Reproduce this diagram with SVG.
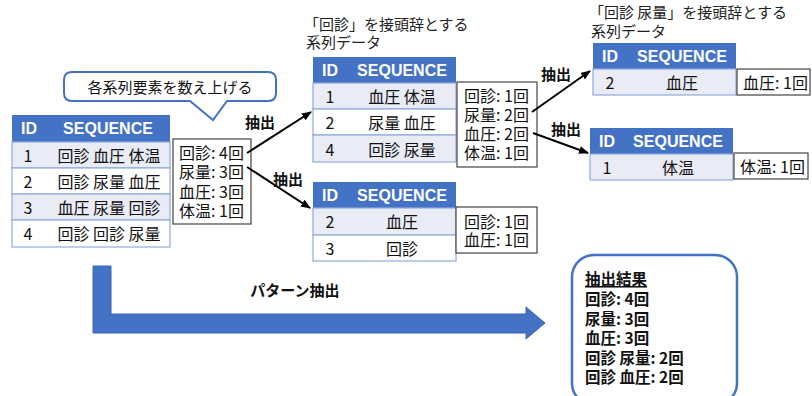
<svg xmlns="http://www.w3.org/2000/svg" width="812" height="396" viewBox="0 0 812 396">
<defs>
<style>
.t{font-family:"Noto Sans CJK JP","Liberation Sans",sans-serif;font-size:16px;fill:#111;dominant-baseline:central}
.ttl{font-family:"Noto Sans CJK JP",sans-serif;font-size:15px;fill:#222}
.hd{font-family:"Liberation Sans","Noto Sans CJK JP",sans-serif;font-size:16px;font-weight:bold;fill:#fff;dominant-baseline:central;text-anchor:middle}
.c{text-anchor:middle}
.hdr{fill:#4472C4}
.alt{fill:#E9EBF5;stroke:#8FAADC;stroke-width:1.2}
.wht{fill:#fff;stroke:#8FAADC;stroke-width:1.2}
.cnt{fill:#fff;stroke:#444;stroke-width:1.2}
.b{font-family:"Noto Sans CJK JP",sans-serif;font-weight:bold;font-size:15px;fill:#111;dominant-baseline:central}
.r{font-family:"Noto Sans CJK JP",sans-serif;font-weight:bold;font-size:15.5px;fill:#111;dominant-baseline:central}
.ln{stroke:#000;stroke-width:2;fill:none;marker-end:url(#ah)}
</style>
<marker id="ah" markerWidth="10" markerHeight="8" refX="9" refY="4" orient="auto" markerUnits="userSpaceOnUse">
<path d="M0,0 L10,4 L0,8 Z" fill="#000"/>
</marker>
</defs>

<g id="callout">
<path d="M72,72 H268 Q276,72 276,80 V93 Q276,101 268,101 H227 L213,120 L190,101 H72 Q64,101 64,93 V80 Q64,72 72,72 Z" fill="#fff" stroke="#4472C4" stroke-width="2"/>
<text class="t c" x="170" y="86" style="font-size:15px">各系列要素を数え上げる</text>
</g>

<g id="table1">
<rect class="hdr" x="12" y="115" width="158" height="27"/>
<text class="hd" x="29" y="128.5">ID</text>
<text class="hd" x="108" y="128.5">SEQUENCE</text>
<rect class="alt" x="12" y="142" width="158" height="26"/>
<rect class="wht" x="12" y="168" width="158" height="26"/>
<rect class="alt" x="12" y="194" width="158" height="26"/>
<rect class="wht" x="12" y="220" width="158" height="27"/>
<text class="t c" x="28" y="155">1</text><text class="t c" x="109" y="155">回診 血圧 体温</text>
<text class="t c" x="28" y="181">2</text><text class="t c" x="109" y="181">回診 尿量 血圧</text>
<text class="t c" x="28" y="207">3</text><text class="t c" x="109" y="207">血圧 尿量 回診</text>
<text class="t c" x="28" y="233">4</text><text class="t c" x="109" y="233">回診 回診 尿量</text>
</g>

<g id="count1">
<rect class="cnt" x="173" y="139" width="78" height="85"/>
<text class="t" x="179" y="152">回診: 4回</text>
<text class="t" x="179" y="171">尿量: 3回</text>
<text class="t" x="179" y="191">血圧: 3回</text>
<text class="t" x="179" y="210">体温: 1回</text>
</g>

<g id="table2">
<text class="ttl" x="304" y="30">「回診」を接頭辞とする</text>
<text class="ttl" x="306" y="48">系列データ</text>
<rect class="hdr" x="313" y="57" width="143" height="26"/>
<text class="hd" x="330" y="70">ID</text>
<text class="hd" x="402" y="70">SEQUENCE</text>
<rect class="alt" x="313" y="83" width="143" height="26"/>
<rect class="wht" x="313" y="109" width="143" height="26"/>
<rect class="alt" x="313" y="135" width="143" height="27"/>
<text class="t c" x="330" y="96">1</text><text class="t c" x="402" y="96">血圧 体温</text>
<text class="t c" x="330" y="122">2</text><text class="t c" x="402" y="122">尿量 血圧</text>
<text class="t c" x="330" y="148.5">4</text><text class="t c" x="402" y="148.5">回診 尿量</text>
</g>

<g id="count2">
<rect class="cnt" x="457" y="82" width="80" height="85"/>
<text class="t" x="464" y="95">回診: 1回</text>
<text class="t" x="464" y="114">尿量: 2回</text>
<text class="t" x="464" y="133">血圧: 2回</text>
<text class="t" x="464" y="152">体温: 1回</text>
</g>

<g id="table3">
<rect class="hdr" x="313" y="182" width="143" height="26"/>
<text class="hd" x="330" y="195">ID</text>
<text class="hd" x="402" y="195">SEQUENCE</text>
<rect class="alt" x="313" y="208" width="143" height="27"/>
<rect class="wht" x="313" y="235" width="143" height="26"/>
<text class="t c" x="330" y="221">2</text><text class="t c" x="402" y="221">血圧</text>
<text class="t c" x="330" y="248">3</text><text class="t c" x="402" y="248">回診</text>
</g>

<g id="count3">
<rect class="cnt" x="456" y="207" width="81" height="46"/>
<text class="t" x="464" y="221">回診: 1回</text>
<text class="t" x="464" y="239">血圧: 1回</text>
</g>

<g id="table4">
<text class="ttl" x="589" y="18">「回診 尿量」を接頭辞とする</text>
<text class="ttl" x="591" y="37">系列データ</text>
<rect class="hdr" x="593" y="43" width="143" height="26"/>
<text class="hd" x="610" y="56">ID</text>
<text class="hd" x="682" y="56">SEQUENCE</text>
<rect class="alt" x="593" y="69" width="143" height="26"/>
<text class="t c" x="610" y="82">2</text><text class="t c" x="682" y="82">血圧</text>
</g>

<g id="count4">
<rect class="cnt" x="737" y="69" width="73" height="26"/>
<text class="t" x="743" y="82">血圧: 1回</text>
</g>

<g id="table5">
<rect class="hdr" x="590" y="128" width="143" height="26"/>
<text class="hd" x="607" y="141">ID</text>
<text class="hd" x="678" y="141">SEQUENCE</text>
<rect class="alt" x="590" y="154" width="143" height="26"/>
<text class="t c" x="607" y="167">1</text><text class="t c" x="678" y="167">体温</text>
</g>

<g id="count5">
<rect class="cnt" x="734" y="153" width="74" height="26"/>
<text class="t" x="740" y="166">体温: 1回</text>
</g>

<g id="connectors">
<line class="ln" x1="247" y1="153" x2="311" y2="112"/>
<line class="ln" x1="247" y1="167" x2="310" y2="208"/>
<line class="ln" x1="532" y1="112" x2="590" y2="71"/>
<line class="ln" x1="533" y1="133" x2="588" y2="153"/>
<text class="b" x="245" y="121">抽出</text>
<text class="b" x="273" y="178">抽出</text>
<text class="b" x="541" y="73">抽出</text>
<text class="b" x="551" y="128">抽出</text>
</g>

<g id="bigarrow">
<path d="M93,266 H111 V314 H526 V307 L545,323 L526,339 V333 H93 Z" fill="#4472C4" stroke="#3A64B0" stroke-width="1"/>
<text class="b c" x="295" y="289">パターン抽出</text>
</g>

<g id="result">
<rect x="572" y="255" width="165" height="150" rx="22" ry="22" fill="#fff" stroke="#4472C4" stroke-width="2.5"/>
<text class="r" x="585" y="278" text-decoration="underline">抽出結果</text>
<text class="r" x="585" y="298">回診: 4回</text>
<text class="r" x="585" y="318">尿量: 3回</text>
<text class="r" x="585" y="337">血圧: 3回</text>
<text class="r" x="585" y="357">回診 尿量: 2回</text>
<text class="r" x="585" y="376">回診 血圧: 2回</text>
</g>
</svg>
